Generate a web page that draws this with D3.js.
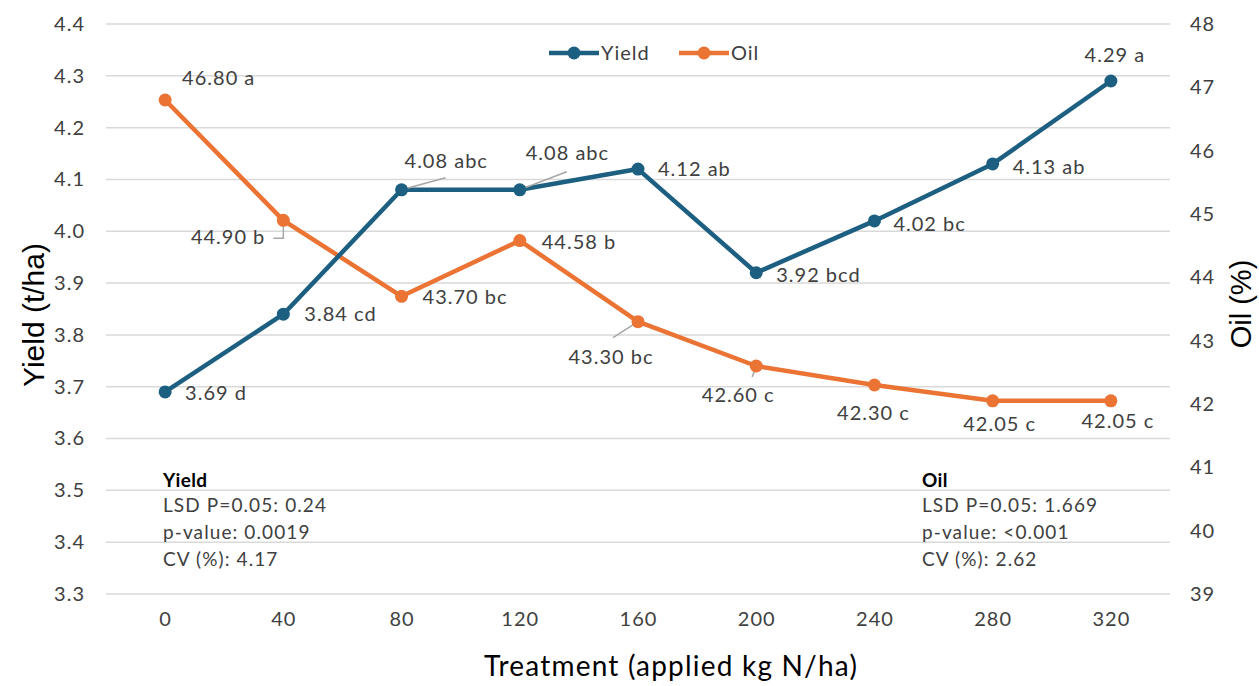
<!DOCTYPE html>
<html>
<head>
<meta charset="utf-8">
<script src="https://cdn.jsdelivr.net/npm/d3@7"></script>
<style>
  body { margin: 0; background: #fff; }
  text { font-family: Lato, "Noto Sans", sans-serif; }
</style>
</head>
<body>
<div id="chart"></div>
<script>
// data
var treatments = ["0", "40", "80", "120", "160", "200", "240", "280", "320"];
var yieldValues = [3.69, 3.84, 4.08, 4.08, 4.12, 3.92, 4.02, 4.13, 4.29];
var yieldLetters = ["d", "cd", "abc", "abc", "ab", "bcd", "bc", "ab", "a"];
var oilValues = [46.80, 44.90, 43.70, 44.58, 43.30, 42.60, 42.30, 42.05, 42.05];
var oilLetters = ["a", "b", "bc", "b", "bc", "c", "c", "c", "c"];
var yieldTicks = [3.3, 3.4, 3.5, 3.6, 3.7, 3.8, 3.9, 4.0, 4.1, 4.2, 4.3, 4.4];
var oilTicks = [39, 40, 41, 42, 43, 44, 45, 46, 47, 48];
var yieldStats = ["LSD P=0.05: 0.24", "p-value: 0.0019", "CV (%): 4.17"];
var oilStats = ["LSD P=0.05: 1.669", "p-value: <0.001", "CV (%): 2.62"];

// label placement relative to the point: [dx, dy, anchor, leader]
var yieldLabelPos = [[20, 8, "start"], [21, 7, "start"], [3, -22, "start", [44, -12]],
    [6, -30, "start", [47, -18]], [20, 7, "start"], [20, 9, "start"], [19, 10, "start"],
    [20, 10, "start"], [4, -19, "middle"]];
var oilLabelPos = [[17, -15, "start"], [-18, 24, "end", [-10, 18]], [21, 8, "start"],
    [22, 8, "start"], [-27, 42, "middle", [-25, 16]], [-18, 36, "middle", [-4, 11]],
    [-1, 35, "middle"], [7, 30, "middle"], [7, 27, "middle"]];

var yieldColor = "#1c5f80", oilColor = "#eb7333", textColor = "#404040";

var width = 1259, height = 686;
var margin = { top: 24, right: 89, bottom: 92, left: 106 };
var innerW = width - margin.left - margin.right,
    innerH = height - margin.top - margin.bottom;

var svg = d3.select("#chart").append("svg")
    .attr("width", width)
    .attr("height", height);

var g = svg.append("g")
    .attr("transform", "translate(" + margin.left + "," + margin.top + ")");

var x = d3.scalePoint().domain(treatments).range([0, innerW]).padding(0.5);
var yL = d3.scaleLinear().domain([3.3, 4.4]).range([innerH, 0]);
var yR = d3.scaleLinear().domain([39, 48]).range([innerH, 0]);

// gridlines
g.selectAll(".grid").data(yieldTicks).enter().append("line")
    .attr("class", "grid")
    .attr("x1", 0).attr("x2", innerW)
    .attr("y1", function (d) { return yL(d); })
    .attr("y2", function (d) { return yL(d); })
    .attr("stroke", "#d9d9d9").attr("stroke-width", 1.5);

// axes
var axisL = g.append("g")
    .call(d3.axisLeft(yL).tickValues(yieldTicks).tickFormat(d3.format(".1f")).tickSize(0).tickPadding(21));
var axisR = g.append("g")
    .attr("transform", "translate(" + innerW + ",0)")
    .call(d3.axisRight(yR).tickValues(oilTicks).tickSize(0).tickPadding(20));
var axisX = g.append("g")
    .attr("transform", "translate(0," + innerH + ")")
    .call(d3.axisBottom(x).tickSize(0).tickPadding(18));
[axisL, axisR, axisX].forEach(function (a) {
    a.select(".domain").remove();
    a.selectAll("text").attr("fill", textColor)
        .style("font-size", "20px").style("letter-spacing", "1px");
});

// axis titles
svg.append("text")
    .attr("transform", "translate(44,315) rotate(-90)")
    .attr("text-anchor", "middle").attr("fill", "#000")
    .style("font-size", "30px").style("font-family", "'Liberation Sans', Arial, sans-serif")
    .text("Yield (t/ha)");
svg.append("text")
    .attr("transform", "translate(1251,304) rotate(-90)")
    .attr("text-anchor", "middle").attr("fill", "#000")
    .style("font-size", "29px").style("font-family", "'Liberation Sans', Arial, sans-serif")
    .text("Oil (%)");
svg.append("text")
    .attr("x", 671).attr("y", 676)
    .attr("text-anchor", "middle").attr("fill", "#000")
    .style("font-size", "28px").style("letter-spacing", "1.2px")
    .text("Treatment (applied kg N/ha)");

function drawSeries(values, letters, pos, y, color, elbow) {
    var line = d3.line()
        .x(function (d, i) { return x(treatments[i]); })
        .y(function (d) { return y(d); });
    g.append("path").datum(values)
        .attr("d", line)
        .attr("fill", "none")
        .attr("stroke", color)
        .attr("stroke-width", 4.5)
        .attr("stroke-linejoin", "round");

    // leader lines
    values.forEach(function (v, i) {
        var p = pos[i], lead = p[3];
        if (!lead) return;
        var px = x(treatments[i]), py = y(v);
        if (i === elbow) {
            g.append("polyline")
                .attr("points", [px, py + 2, px, py + lead[1], px + lead[0], py + lead[1]].join(","))
                .attr("fill", "none").attr("stroke", "#a6a6a6").attr("stroke-width", 1.5);
        } else {
            g.append("line")
                .attr("x1", px).attr("y1", py)
                .attr("x2", px + lead[0]).attr("y2", py + lead[1])
                .attr("stroke", "#a6a6a6").attr("stroke-width", 1.5);
        }
    });

    g.selectAll(null).data(values).enter().append("circle")
        .attr("cx", function (d, i) { return x(treatments[i]); })
        .attr("cy", function (d) { return y(d); })
        .attr("r", 6.5)
        .attr("fill", color);

    g.selectAll(null).data(values).enter().append("text")
        .attr("x", function (d, i) { return x(treatments[i]) + pos[i][0]; })
        .attr("y", function (d, i) { return y(d) + pos[i][1]; })
        .attr("text-anchor", function (d, i) { return pos[i][2]; })
        .attr("fill", textColor)
        .style("font-size", "20px").style("letter-spacing", "1px")
        .text(function (d, i) { return d.toFixed(2) + " " + letters[i]; });
}

drawSeries(oilValues, oilLetters, oilLabelPos, yR, oilColor, 1);
drawSeries(yieldValues, yieldLetters, yieldLabelPos, yL, yieldColor, -1);

// legend
var legendItems = [{ name: "Yield", color: yieldColor, x: 549 }, { name: "Oil", color: oilColor, x: 679 }];
var legend = svg.selectAll(".legend").data(legendItems).enter().append("g")
    .attr("transform", function (d) { return "translate(" + d.x + ",53)"; });
legend.append("line").attr("x1", 0).attr("x2", 50)
    .attr("stroke", function (d) { return d.color; }).attr("stroke-width", 4.5);
legend.append("circle").attr("cx", 25).attr("r", 6.5)
    .attr("fill", function (d) { return d.color; });
legend.append("text").attr("x", 52).attr("y", 7)
    .attr("fill", textColor).style("font-size", "20px").style("letter-spacing", "1px")
    .text(function (d) { return d.name; });

// stats boxes
function statsBlock(title, lines, px) {
    var t = svg.append("text").attr("fill", textColor)
        .style("font-size", "19px").style("letter-spacing", "1.1px");
    t.append("tspan").attr("x", px).attr("y", 487)
        .attr("fill", "#000").style("font-weight", "bold").style("letter-spacing", "0.3px").text(title);
    lines.forEach(function (l, i) {
        t.append("tspan").attr("x", px).attr("y", 512 + i * 27).text(l);
    });
}
statsBlock("Yield", yieldStats, 163);
statsBlock("Oil", oilStats, 922);
</script>
</body>
</html>
